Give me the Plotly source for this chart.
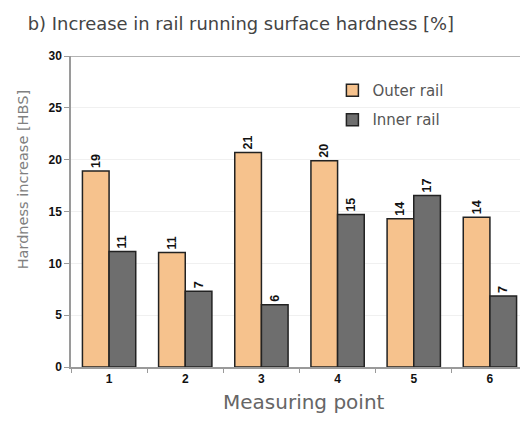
import plotly.graph_objects as go

categories = ["1", "2", "3", "4", "5", "6"]
outer_values = [18.9, 11.05, 20.7, 19.9, 14.3, 14.45]
inner_values = [11.15, 7.3, 6.0, 14.7, 16.55, 6.85]
outer_labels = ["19", "11", "21", "20", "14", "14"]
inner_labels = ["11", "7", "6", "15", "17", "7"]
y_ticks = [0, 5, 10, 15, 20, 25, 30]

GRAYFONT = "DejaVu Sans"

fig = go.Figure()
fig.add_trace(go.Bar(
    name="Outer rail", x=categories, y=outer_values, text=outer_labels,
    legendgroup="a",
    textposition="outside", textangle=-90, constraintext="none", cliponaxis=False,
    textfont=dict(family="Liberation Sans", size=12.5, color="#111111", weight="bold"),
    marker=dict(color="#F6C28D", line=dict(color="#222222", width=1.5)),
))
fig.add_trace(go.Bar(
    name="Inner rail", x=categories, y=inner_values, text=inner_labels,
    legendgroup="b",
    textposition="outside", textangle=-90, constraintext="none", cliponaxis=False,
    textfont=dict(family="Liberation Sans", size=12.5, color="#111111", weight="bold"),
    marker=dict(color="#6E6E6E", line=dict(color="#222222", width=1.5)),
))

fig.add_shape(type="line", xref="paper", yref="y", x0=0, x1=1, y0=30, y1=30,
              line=dict(color="#9A9A9A", width=1.5))

fig.add_annotation(text="Hardness increase [HBS]", xref="paper", yref="paper",
                   x=-0.1045, y=0.601, xanchor="center", yanchor="middle",
                   textangle=-90, showarrow=False,
                   font=dict(family=GRAYFONT, size=14.5, color="#808080"))
fig.add_annotation(text="Measuring point", xref="paper", yref="paper",
                   x=0.51, y=-0.1125, xanchor="center", yanchor="middle",
                   showarrow=False,
                   font=dict(family=GRAYFONT, size=20, color="#666666"))

fig.update_layout(
    width=520, height=417,
    margin=dict(l=63, r=0, t=48, b=58),
    paper_bgcolor="white", plot_bgcolor="white",
    barmode="group", bargap=0.3, bargroupgap=0,
    showlegend=True,
    legend=dict(x=0.572, y=0.9425, xanchor="left", yanchor="top",
                traceorder="grouped", tracegroupgap=7,
                font=dict(family=GRAYFONT, size=15, color="#555555"),
                bgcolor="rgba(0,0,0,0)", itemwidth=30),
    title=dict(text="b) Increase in rail running surface hardness [%]",
               x=0.038, xanchor="left", y=0.962, yanchor="middle",
               font=dict(family=GRAYFONT, size=17.9, color="#444444")),
    xaxis=dict(
        tickfont=dict(family="Liberation Sans", size=12, color="#111111", weight="bold"),
        showline=True, linecolor="#9A9A9A", linewidth=1.5,
        ticks="outside", tickson="boundaries", ticklen=4, tickcolor="#9A9A9A",
        range=[-0.5, 5.5],
    ),
    yaxis=dict(
        tickfont=dict(family="Liberation Sans", size=12, color="#111111", weight="bold"),
        range=[0, 30], tickvals=y_ticks,
        showline=True, linecolor="#9A9A9A", linewidth=1.5,
        ticks="outside", ticklen=5, tickcolor="#9A9A9A",
        showgrid=True, gridcolor="#F0F0F0", gridwidth=1,
        zeroline=False,
    ),
)

fig.write_html("out.html")
